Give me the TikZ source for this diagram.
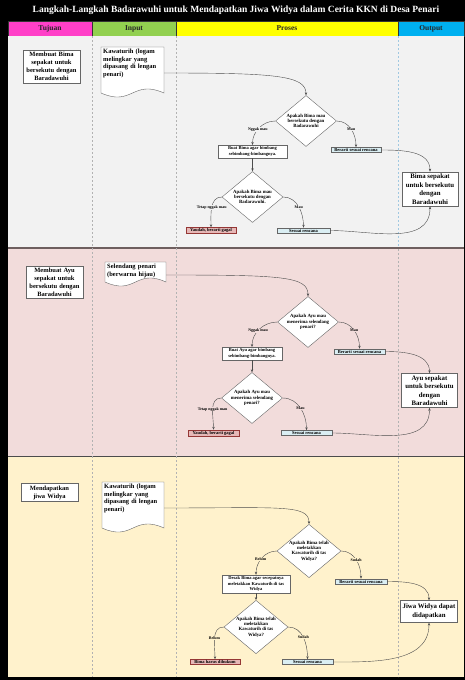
\documentclass[tikz,border=0pt]{standalone}
\usepackage{fontspec}
\setmainfont{Liberation Serif}
\usepackage{xcolor}
\usepackage{tikz}
\usetikzlibrary{shapes.geometric, arrows.meta, positioning, calc}
\definecolor{tujuanpink}{RGB}{255, 64, 200}
\definecolor{inputgreen}{RGB}{146, 208, 80}
\definecolor{prosesyellow}{RGB}{255, 255, 0}
\definecolor{outputblue}{RGB}{0, 176, 240}
\definecolor{laneone}{RGB}{242, 242, 242}
\definecolor{lanetwo}{RGB}{242, 220, 219}
\definecolor{lanethree}{RGB}{255, 242, 204}
\definecolor{okblue}{RGB}{218, 238, 243}
\definecolor{failred}{RGB}{230, 184, 183}
\definecolor{failborder}{RGB}{149, 55, 53}
\definecolor{lanerule}{RGB}{110, 95, 95}
\definecolor{paleblue}{RGB}{160, 200, 225}

\tikzset{
    head/.style={draw=black!80, minimum height=15pt, inner sep=0pt, text=black!85, font=\bfseries\fontsize{7.5}{9}\selectfont},
    goalbox/.style={draw=black!60, fill=white, align=center, inner sep=2pt, text width=53pt, font=\bfseries\fontsize{6.5}{8}\selectfont},
    docbox/.style={anchor=north west, align=left, inner sep=2pt, text width=59pt, font=\bfseries\fontsize{6.5}{7.5}\selectfont},
    docline/.style={draw=black!60, fill=white},
    outbox/.style={draw=black!60, fill=white, align=center, inner sep=2pt, minimum width=56pt, minimum height=22pt, font=\bfseries\fontsize{6.8}{8.5}\selectfont},
    procbox/.style={draw=black!60, fill=white, align=center, inner sep=1.5pt, font=\bfseries\fontsize{4.5}{5.5}\selectfont},
    okbox/.style={draw=black!60, fill=okblue, inner sep=1pt, font=\bfseries\fontsize{4.5}{5}\selectfont},
    failbox/.style={draw=failborder, fill=failred, inner sep=1pt, font=\bfseries\fontsize{4.5}{5}\selectfont},
    decision/.style={diamond, draw=black!60, fill=white, aspect=1.2, inner sep=0pt, minimum width=61pt, minimum height=51pt, align=center, font=\bfseries\fontsize{4.8}{5.3}\selectfont},
    lbl/.style={fill=#1, inner sep=0.3pt, font=\bfseries\fontsize{4}{4.5}\selectfont},
    arr/.style={draw=black!70, line width=0.4pt, -{Stealth[length=3pt, width=2.4pt]}},
    colrule/.style={draw=#1, line width=0.4pt, dash pattern=on 2pt off 2pt}
}

% document shape: name, top-left x, top-left y, width, height, text
\newcommand{\docnode}[6]{%
    \draw[docline] (#2,#3) -- ++(#4,0) -- ++(0,-#5)
        .. controls +(-#4/2,14) and +(#4/2,-14) .. ++(-#4,0) -- cycle;
    \node[docbox] (#1) at (#2,#3) {#6};
    \coordinate (#1-e) at (#2+#4,#3-#5/2-3);
}

\begin{document}
\begin{tikzpicture}[x=1pt, y=1pt]
    \useasboundingbox (0,0) rectangle (465,-680);
    \fill[black] (0,0) rectangle (465,-680);

    % Title and column heads
    \node[text=white, font=\bfseries\fontsize{9.5}{11}\selectfont] (title) at (236,-10.5)
        {Langkah-Langkah Badarawuhi untuk Mendapatkan Jiwa Widya dalam Cerita KKN di Desa Penari};
    \node[head, fill=tujuanpink, minimum width=84pt] (hTujuan) at (50,-28.5) {Tujuan};
    \node[head, fill=inputgreen, minimum width=84pt] (hInput) at (134,-28.5) {Input};
    \node[head, fill=prosesyellow, minimum width=222pt] (hProses) at (287,-28.5) {Proses};
    \node[head, fill=outputblue, minimum width=66pt] (hOutput) at (431,-28.5) {Output};

    % Swimlanes
    \fill[laneone] (8,-36) rectangle (464,-247);
    \fill[lanetwo] (8,-249) rectangle (464,-455.5);
    \fill[lanethree] (8,-457) rectangle (464,-677);
    \draw[lanerule, line width=1.5pt] (8,-248) -- (464,-248);
    \draw[black!70, line width=1.2pt] (8,-456.3) -- (464,-456.3);
    \draw[colrule=gray!60] (92,-36) -- (92,-677);
    \draw[colrule=gray!60] (176,-36) -- (176,-677);
    \draw[colrule=paleblue] (398,-36) -- (398,-247);
    \draw[colrule=gray!60] (398,-249) -- (398,-677);

    % Lane 1: Bima
    \node[goalbox] (gA) at (51.5,-66.5) {Membuat Bima\\sepakat untuk\\bersekutu dengan\\Baradawuhi};
    \docnode{doc1}{101}{-47}{63}{46}{Kawaturih (logam\\melingkar yang\\dipasang di lengan\\penari)}
    \node[decision] (dA1) at (306,-121) {Apakah Bima mau\\bersekutu dengan\\Badarawuhi};
    \node[procbox, minimum width=69pt] (bA1) at (252.5,-151.5) {Buat Bima agar bimbang\\sebimbang-bimbangnya.};
    \node[okbox, minimum width=50pt] (rA1) at (356,-150) {Berarti sesuai rencana};
    \node[outbox] (oA) at (430,-189) {Bima sepakat\\untuk bersekutu\\dengan\\Baradawuhi};
    \node[decision] (dA2) at (252.5,-197) {Apakah Bima mau\\bersekutu dengan\\Badarawuhi.};
    \node[failbox, minimum width=50pt] (fA) at (211,-230.5) {Yaudah, berarti gagal};
    \node[okbox, minimum width=53pt] (sA) at (303.5,-230.5) {Sesuai rencana};

    \draw[arr] (doc1-e) .. controls +(110,0) and +(0,20) .. (dA1.north);
    \draw[arr] (dA1.west) to[out=180, in=90] node[lbl=laneone, pos=0.55] {Nggak mau} (bA1.north);
    \draw[arr] (dA1.east) to[out=0, in=90] node[lbl=laneone, pos=0.5] {Mau} (rA1.north);
    \draw[arr] (rA1.east) to[out=0, in=90] (oA.north);
    \draw[arr] (bA1) -- (dA2);
    \draw[arr] (dA2.west) to[out=180, in=90] node[lbl=laneone, pos=0.5] {Tetap nggak mau} (fA.north);
    \draw[arr] (dA2.east) to[out=0, in=90] node[lbl=laneone, pos=0.5] {Mau} (sA.north);
    \draw[arr] (sA.east) to[out=0, in=-90] (oA.south);

    % Lane 2: Ayu
    \node[goalbox] (gB) at (54.5,-282) {Membuat Ayu\\sepakat untuk\\bersekutu dengan\\Baradawuhi};
    \docnode{doc2}{105}{-262}{61}{20}{Selendang penari\\(berwarna hijau)}
    \node[decision] (dB1) at (308,-322) {Apakah Ayu mau\\menerima selendang\\penari?};
    \node[procbox, minimum width=60pt] (bB1) at (252,-353.5) {Buat Ayu agar bimbang\\sebimbang-bimbangnya.};
    \node[okbox, minimum width=51pt] (rB1) at (359.5,-351.5) {Berarti sesuai rencana};
    \node[outbox] (oB) at (429.5,-390.5) {Ayu sepakat\\untuk bersekutu\\dengan\\Baradawuhi};
    \node[decision] (dB2) at (252,-398) {Apakah Ayu mau\\menerima selendang\\penari?};
    \node[failbox, minimum width=51pt] (fB) at (213.5,-433) {Yaudah, berarti gagal};
    \node[okbox, minimum width=51pt] (sB) at (306.5,-433) {Sesuai rencana};

    \draw[arr] (doc2-e) .. controls +(115,0) and +(0,20) .. (dB1.north);
    \draw[arr] (dB1.west) to[out=180, in=90] node[lbl=lanetwo, pos=0.55] {Nggak mau} (bB1.north);
    \draw[arr] (dB1.east) to[out=0, in=90] node[lbl=lanetwo, pos=0.5] {Mau} (rB1.north);
    \draw[arr] (rB1.east) to[out=0, in=90] (oB.north);
    \draw[arr] (bB1) -- (dB2);
    \draw[arr] (dB2.west) to[out=180, in=90] node[lbl=lanetwo, pos=0.5] {Tetap nggak mau} (fB.north);
    \draw[arr] (dB2.east) to[out=0, in=90] node[lbl=lanetwo, pos=0.5] {Mau} (sB.north);
    \draw[arr] (sB.east) to[out=0, in=-90] (oB.south);

    % Lane 3: Widya
    \node[goalbox] (gC) at (49.5,-492.5) {Mendapatkan\\jiwa Widya};
    \docnode{doc3}{102}{-482}{62}{46}{Kawaturih (logam\\melingkar yang\\dipasang di lengan\\penari)}
    \node[decision] (dC1) at (309,-551) {Apakah Bima telah\\meletakkan\\Kawaturih di tas\\Widya?};
    \node[procbox, minimum width=68pt] (bC1) at (256,-584) {Desak Bima agar secepatnya\\meletakkan Kawaturih di tas\\Widya};
    \node[okbox, minimum width=52pt] (rC1) at (361,-581.5) {Berarti sesuai rencana};
    \node[outbox] (oC) at (429,-611.5) {Jiwa Widya dapat\\didapatkan};
    \node[decision] (dC2) at (256,-627) {Apakah Bima telah\\meletakkan\\Kawaturih di tas\\Widya?};
    \node[failbox, minimum width=50pt] (fC) at (215,-662) {Bima harus dihukum};
    \node[okbox, minimum width=51pt] (sC) at (307.5,-662) {Sesuai rencana};

    \draw[arr] (doc3-e) .. controls +(115,0) and +(0,20) .. (dC1.north);
    \draw[arr] (dC1.west) to[out=180, in=90] node[lbl=lanethree, pos=0.55] {Belum} (bC1.north);
    \draw[arr] (dC1.east) to[out=0, in=90] node[lbl=lanethree, pos=0.5] {Sudah} (rC1.north);
    \draw[arr] (rC1.east) to[out=0, in=90] (oC.north);
    \draw[arr] (bC1) -- (dC2);
    \draw[arr] (dC2.west) to[out=180, in=90] node[lbl=lanethree, pos=0.5] {Belum} (fC.north);
    \draw[arr] (dC2.east) to[out=0, in=90] node[lbl=lanethree, pos=0.5] {Sudah} (sC.north);
    \draw[arr] (sC.east) to[out=0, in=-90] (oC.south);
\end{tikzpicture}
\end{document}
